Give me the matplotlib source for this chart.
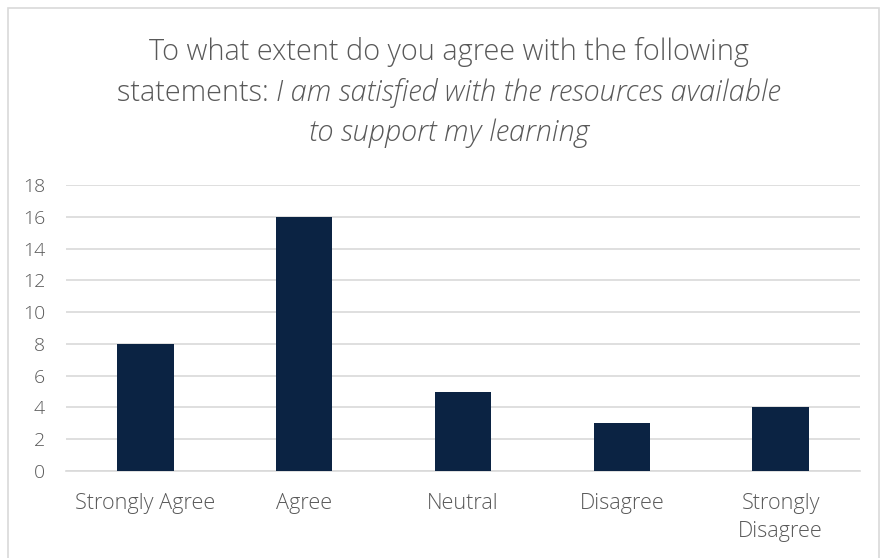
import matplotlib
matplotlib.use('Agg')
import matplotlib.pyplot as plt
from matplotlib.patches import Rectangle
import numpy as np

categories = ['Strongly Agree', 'Agree', 'Neutral', 'Disagree', 'Strongly\nDisagree']
counts = [8, 16, 5, 3, 4]
yticks = [0, 2, 4, 6, 8, 10, 12, 14, 16, 18]

bar_color = '#0B2343'
text_color = '#595959'
grid_color = '#D9D9D9'

plt.rcParams['font.family'] = ['Open Sans', 'DejaVu Sans']
plt.rcParams['font.weight'] = 'light'

fig = plt.figure(figsize=(8.9, 5.58), dpi=100)
fig.patches.append(Rectangle((8 / 890, -0.02), 871 / 890, 1.02 - 8 / 558,
                             transform=fig.transFigure, fill=False,
                             edgecolor='#D9D9D9', linewidth=1.2))

ax = fig.add_axes([66 / 890, 1 - 471 / 558, 794 / 890, 286 / 558])
x = np.arange(len(categories))
ax.bar(x, counts, width=0.355, color=bar_color, zorder=3)
ax.set_xlim(-0.5, len(categories) - 0.5)
ax.set_ylim(0, 18)
ax.set_yticks(yticks)
ax.set_xticks(x)
ax.set_xticklabels(categories, fontsize=15.6, color=text_color, linespacing=1.4)
ax.tick_params(axis='y', labelsize=14, labelcolor=text_color, length=0, pad=15)
ax.tick_params(axis='x', length=0, pad=16)
for lab in ax.get_yticklabels():
    lab.set_horizontalalignment('right')
ax.grid(axis='y', color=grid_color, linewidth=1.2, zorder=0)
for s in ['top', 'right', 'left']:
    ax.spines[s].set_visible(False)
ax.spines['bottom'].set_color(grid_color)
ax.spines['bottom'].set_linewidth(1.2)

# title, with the italic statement
tsize = 20.8
cx = 449 / 890
fig.text(cx, 1 - 52 / 558, 'To what extent do you agree with the following',
         ha='center', va='center', fontsize=tsize, color=text_color)
renderer = fig.canvas.get_renderer()
part1 = fig.text(0, 1 - 93 / 558, 'statements: ', ha='left', va='center',
                 fontsize=tsize, color=text_color)
part2 = fig.text(0, 1 - 93 / 558, 'I am satisfied with the resources available',
                 ha='left', va='center', fontsize=tsize, color=text_color,
                 style='italic')
w1 = part1.get_window_extent(renderer).width / fig.bbox.width
w2 = part2.get_window_extent(renderer).width / fig.bbox.width
start = cx - (w1 + w2) / 2
part1.set_x(start)
part2.set_x(start + w1)
fig.text(cx, 1 - 133 / 558, 'to support my learning', ha='center', va='center',
         fontsize=tsize, color=text_color, style='italic')

fig.savefig('out.png', dpi=100)
